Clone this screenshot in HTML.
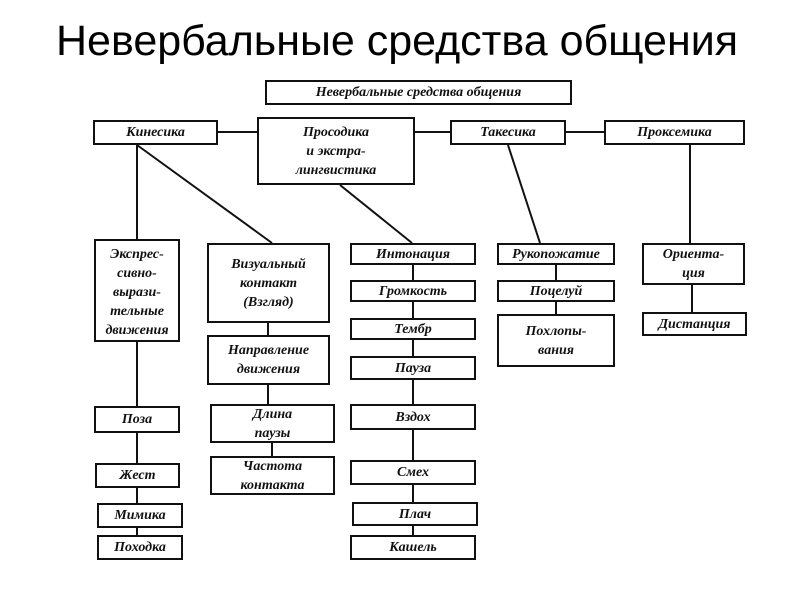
<!DOCTYPE html>
<html><head><meta charset="utf-8"><style>
body{margin:0;width:794px;height:595px;background:#fff;position:relative;overflow:hidden;font-family:"Liberation Sans",sans-serif}
h1{position:absolute;left:0;width:794px;top:17px;margin:0;text-align:center;font-weight:normal;font-size:43px;color:#000}
.b{position:absolute;border:2px solid #111;box-sizing:border-box;display:flex;align-items:center;justify-content:center;text-align:center;font-family:"Liberation Serif",serif;font-style:italic;font-weight:bold;font-size:14px;line-height:19px;color:#111;background:#fff}
svg{position:absolute;left:0;top:0}
</style></head><body>
<h1>Невербальные средства общения</h1>
<svg width="794" height="595"><g stroke="#111" stroke-width="2">
<line x1="218" y1="132" x2="257" y2="132"/><line x1="415" y1="132" x2="450" y2="132"/><line x1="566" y1="132" x2="604" y2="132"/>
<line x1="137" y1="145" x2="137" y2="239"/><line x1="137" y1="145" x2="272" y2="243"/>
<line x1="340" y1="185" x2="412" y2="243"/><line x1="508" y1="145" x2="540" y2="243"/><line x1="690" y1="145" x2="690" y2="243"/>
<line x1="137" y1="342" x2="137" y2="406"/><line x1="137" y1="433" x2="137" y2="463"/><line x1="137" y1="488" x2="137" y2="535"/>
<line x1="268" y1="323" x2="268" y2="335"/><line x1="268" y1="385" x2="268" y2="404"/><line x1="272" y1="443" x2="272" y2="456"/>
<line x1="413" y1="265" x2="413" y2="535"/>
<line x1="556" y1="265" x2="556" y2="314"/><line x1="692" y1="285" x2="692" y2="312"/>
</g></svg>
<div class="b" style="left:265px;top:80px;width:307px;height:25px">Невербальные средства общения</div>
<div class="b" style="left:93px;top:120px;width:125px;height:25px">Кинесика</div>
<div class="b" style="left:257px;top:117px;width:158px;height:68px">Просодика<br>и экстра-<br>лингвистика</div>
<div class="b" style="left:450px;top:120px;width:116px;height:25px">Такесика</div>
<div class="b" style="left:604px;top:120px;width:141px;height:25px">Проксемика</div>
<div class="b" style="left:94px;top:239px;width:86px;height:103px;align-items:flex-start;padding-top:4px">Экспрес-<br>сивно-<br>вырази-<br>тельные<br>движения</div>
<div class="b" style="left:207px;top:243px;width:123px;height:80px">Визуальный<br>контакт<br>(Взгляд)</div>
<div class="b" style="left:207px;top:335px;width:123px;height:50px">Направление<br>движения</div>
<div class="b" style="left:210px;top:404px;width:125px;height:39px">Длина<br>паузы</div>
<div class="b" style="left:210px;top:456px;width:125px;height:39px">Частота<br>контакта</div>
<div class="b" style="left:350px;top:243px;width:126px;height:22px">Интонация</div>
<div class="b" style="left:350px;top:280px;width:126px;height:22px">Громкость</div>
<div class="b" style="left:350px;top:318px;width:126px;height:22px">Тембр</div>
<div class="b" style="left:350px;top:356px;width:126px;height:24px">Пауза</div>
<div class="b" style="left:350px;top:404px;width:126px;height:26px">Вздох</div>
<div class="b" style="left:350px;top:460px;width:126px;height:25px">Смех</div>
<div class="b" style="left:352px;top:502px;width:126px;height:24px">Плач</div>
<div class="b" style="left:350px;top:535px;width:126px;height:25px">Кашель</div>
<div class="b" style="left:497px;top:243px;width:118px;height:22px">Рукопожатие</div>
<div class="b" style="left:497px;top:280px;width:118px;height:22px">Поцелуй</div>
<div class="b" style="left:497px;top:314px;width:118px;height:53px">Похлопы-<br>вания</div>
<div class="b" style="left:642px;top:243px;width:103px;height:42px">Ориента-<br>ция</div>
<div class="b" style="left:642px;top:312px;width:105px;height:24px">Дистанция</div>
<div class="b" style="left:94px;top:406px;width:86px;height:27px">Поза</div>
<div class="b" style="left:95px;top:463px;width:85px;height:25px">Жест</div>
<div class="b" style="left:97px;top:503px;width:86px;height:25px">Мимика</div>
<div class="b" style="left:97px;top:535px;width:86px;height:25px">Походка</div>
</body></html>
